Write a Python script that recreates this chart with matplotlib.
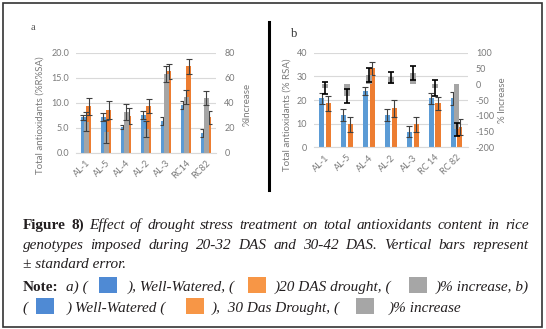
import matplotlib
matplotlib.use("Agg")
import matplotlib.pyplot as plt
from matplotlib.patches import Rectangle
from matplotlib.lines import Line2D
import numpy as np

plt.rcParams['font.family'] = ['Lato', 'DejaVu Sans']

# panel a : 20 DAS drought
genotypes_a = ['AL-1', 'AL-5', 'AL-4', 'AL-2', 'AL-3', 'RC14', 'RC82']
ww_a = [7.1, 7.2, 5.1, 7.5, 6.3, 9.5, 3.9]
ww_a_err = [0.5, 0.8, 0.4, 0.8, 0.8, 0.8, 0.8]
dr_a = [9.3, 8.5, 7.3, 9.3, 16.3, 17.3, 7.1]
dr_a_err = [1.7, 1.8, 1.6, 1.4, 1.5, 1.5, 1.3]
inc_a = [25, 17, 33, 19, 63, 45, 44]
inc_a_err = [7.5, 9, 6.4, 6.6, 6, 5.6, 5.8]

# panel b : 30 DAS drought
genotypes_b = ['AL-1', 'AL-5', 'AL-4', 'AL-2', 'AL-3', 'RC 14', 'RC 82']
ww_b = [20.7, 13.7, 23.8, 13.7, 6.6, 20.7, 20.7]
ww_b_err = [2.4, 2.4, 1.8, 2.4, 2.4, 2.4, 2.8]
dr_b = [18.6, 9.7, 33.4, 16.5, 9.7, 18.6, 8.5]
dr_b_err = [3.1, 3.2, 2.8, 3.5, 3.2, 2.8, 3.3]
inc_b = [-12, -38, 30, 22, 36, -13, -143]
inc_b_err = [20, 23, 22, 17, 23, 25, 20]

BLUE = '#5B9BD5'
ORANGE = '#ED7D31'
GRAY = '#A5A5A5'
GRID = '#D9D9D9'
TXT = '#7A7A7A'

W, H = 546, 329
fig = plt.figure(figsize=(W / 100, H / 100), dpi=100)


def fx(x):
    return x / W


def fy(y):
    return 1 - y / H


def panel(box, cats, ww, ww_e, dr, dr_e, inc, inc_e, lticks, lfmt, rticks,
          off, bw, gw, gcol, glw):
    x0, y0, x1, y1 = box
    ax = fig.add_axes([fx(x0), fy(y1), (x1 - x0) / W, (y1 - y0) / H])
    x = np.arange(len(cats))
    ax.bar(x - off, ww, bw, color=BLUE, zorder=2)
    ax.errorbar(x - off, ww, yerr=ww_e, fmt='none', ecolor='#404040',
                elinewidth=0.8, capsize=2, capthick=0.8, zorder=3)
    ax.bar(x + off, dr, bw, color=ORANGE, zorder=2)
    ax.errorbar(x + off, dr, yerr=dr_e, fmt='none', ecolor='#404040',
                elinewidth=0.8, capsize=2, capthick=0.8, zorder=3)
    ax.set_xlim(-0.5, len(cats) - 0.5)
    ax.set_ylim(lticks[0], lticks[-1])
    ax.set_yticks(lticks, [lfmt.format(v) for v in lticks])
    ax.set_xticks(x, cats, rotation=45, ha='right', rotation_mode='anchor')
    ax.grid(axis='y', color=GRID, lw=0.8)
    ax.set_axisbelow(True)
    for s in ax.spines.values():
        s.set_visible(False)
    ax.spines['bottom'].set_visible(True)
    ax.spines['bottom'].set_color(GRID)
    ax.tick_params(length=0, labelsize=6.5, labelcolor=TXT, pad=5)
    ax.tick_params(axis='x', pad=4)

    ax2 = ax.twinx()
    ax2.bar(x, inc, gw, color=GRAY, zorder=2)
    ax2.errorbar(x, inc, yerr=inc_e, fmt='none', ecolor=gcol,
                 elinewidth=glw, capsize=2.2, capthick=glw, zorder=3)
    ax2.set_ylim(rticks[0], rticks[-1])
    ax2.set_yticks(rticks, [str(v) for v in rticks])
    for s in ax2.spines.values():
        s.set_visible(False)
    ax2.tick_params(length=0, labelsize=6.5, labelcolor=TXT, pad=6)
    return ax, ax2


panel((76, 52.7, 216, 153), genotypes_a, ww_a, ww_a_err, dr_a, dr_a_err,
      inc_a, inc_a_err, [0, 5, 10, 15, 20], '{:.1f}', [0, 20, 40, 60, 80],
      0.14, 0.25, 0.25, '#404040', 0.8)
panel((314, 52.7, 467.5, 147.3), genotypes_b, ww_b, ww_b_err, dr_b, dr_b_err,
      inc_b, inc_b_err, [0, 10, 20, 30, 40], '{:d}',
      [-200, -150, -100, -50, 0, 50, 100], 0.155, 0.23, 0.27, 'black', 1.2)

# axis titles
fig.text(fx(40), fy(115), 'Total antioxidants (%R%SA)', rotation=90,
         ha='center', va='center', fontsize=7, color=TXT)
fig.text(fx(247), fy(104), '%Increase', rotation=90,
         ha='center', va='center', fontsize=7, color=TXT)
fig.text(fx(287), fy(115), 'Total antioxidants (% RSA)', rotation=90,
         ha='center', va='center', fontsize=7, color=TXT)
fig.text(fx(503), fy(100), '% Increase', rotation=90,
         ha='center', va='center', fontsize=7, color=TXT)

fig.text(fx(33), fy(27), 'a', fontsize=7.5, color='#555555',
         family='Liberation Serif', ha='center', va='center')
fig.text(fx(294), fy(34), 'b', fontsize=9, color='#333333',
         family='Liberation Serif', ha='center', va='center')

# frame and divider
fig.add_artist(Rectangle((fx(3), fy(327)), (542 - 3) / W, (327 - 3) / H,
                         transform=fig.transFigure, fill=False,
                         ec='#333333', lw=1.2))
fig.add_artist(Line2D([fx(269), fx(269)], [fy(22), fy(190)],
                      color='black', lw=2.2))

# caption
SERIF = 'Liberation Serif'
CAP = '#231F20'
FS = 11
renderer = fig.canvas.get_renderer()


def justify(words, y, x0=22.8, x1=528.5):
    texts = []
    for w, bold in words:
        texts.append(fig.text(0, fy(y), w, family=SERIF, fontsize=FS,
                              color=CAP, va='baseline',
                              weight='bold' if bold else 'normal',
                              style='normal' if bold else 'italic'))
    widths = [t.get_window_extent(renderer).width for t in texts]
    gap = (x1 - x0 - sum(widths)) / (len(texts) - 1)
    x = x0
    for t, w in zip(texts, widths):
        t.set_x(fx(x))
        x += w + gap


line1 = [('Figure', True), ('8)', True)] + [
    (w, False) for w in 'Effect of drought stress treatment on total '
    'antioxidants content in rice'.split()]
line2 = [(w, False) for w in 'genotypes imposed during 20-32 DAS and 30-42 '
         'DAS. Vertical bars represent'.split()]
justify(line1, 229)
justify(line2, 249)
fig.text(fx(22.8), fy(268.5), '\u00b1 standard error.', family=SERIF,
         fontsize=FS, color=CAP, style='italic', va='baseline')


def seg(x, y, s, bold=False):
    fig.text(fx(x), fy(y), s, family=SERIF, fontsize=FS, color=CAP,
             va='baseline', weight='bold' if bold else 'normal',
             style='normal' if bold else 'italic')


def square(x, y, c):
    fig.add_artist(Rectangle((fx(x), fy(y + 16)), 18 / W, 16 / H,
                             transform=fig.transFigure, color=c, lw=0))


seg(22.8, 291, 'Note:', bold=True)
seg(66.5, 291, 'a) (')
square(98.7, 277, '#4F8AD4')
seg(127.8, 291, '), Well-Watered, (')
square(247.8, 277, '#F79646')
seg(274.8, 291, ')20 DAS drought, (')
square(408.8, 277, '#A6A6A6')
seg(435.8, 291, ')% increase, b)')

seg(22.8, 312, '(')
square(36, 298, '#4F8AD4')
seg(66.5, 312, ') Well-Watered (')
square(185.5, 298, '#F79646')
seg(211.8, 312, '),  30 Das Drought, (')
square(356.3, 298, '#A6A6A6')
seg(388.5, 312, ')% increase')

fig.savefig('out.png', dpi=100)
